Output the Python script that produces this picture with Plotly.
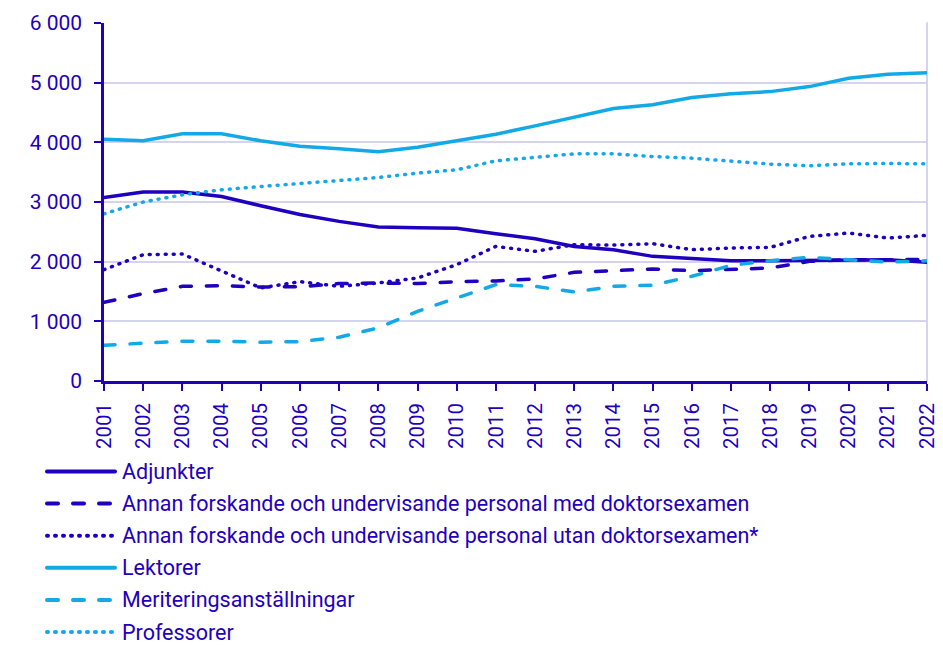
import plotly.graph_objects as go

years = list(range(2001, 2023))

adjunkter = [3077, 3166, 3166, 3093, 2937, 2790, 2675, 2580, 2569, 2558, 2469,
             2385, 2256, 2201, 2089, 2050, 2017, 2017, 2022, 2033, 2033, 1989]
annan_med = [1319, 1464, 1587, 1598, 1576, 1580, 1632, 1643, 1632, 1665, 1677,
             1710, 1821, 1849, 1877, 1849, 1866, 1894, 2005, 2033, 2033, 2040]
annan_utan = [1866, 2117, 2128, 1838, 1560, 1665, 1587, 1643, 1727, 1950, 2256,
              2173, 2285, 2279, 2301, 2201, 2229, 2240, 2424, 2480, 2396, 2441]
lektorer = [4053, 4025, 4142, 4142, 4025, 3935, 3891, 3841, 3919, 4030, 4137,
            4276, 4415, 4566, 4630, 4750, 4815, 4850, 4934, 5074, 5141, 5168]
meritering = [600, 628, 667, 667, 650, 660, 734, 890, 1168, 1392, 1615,
              1587, 1492, 1587, 1604, 1755, 1938, 2017, 2072, 2033, 1994, 2015]
professorer = [2803, 2999, 3121, 3205, 3260, 3310, 3361, 3411, 3484, 3540, 3690,
               3752, 3807, 3807, 3762, 3735, 3679, 3635, 3607, 3640, 3646, 3640]

names = ["Adjunkter",
         "Annan forskande och undervisande personal med doktorsexamen",
         "Annan forskande och undervisande personal utan doktorsexamen*",
         "Lektorer",
         "Meriteringsanställningar",
         "Professorer"]
series = [adjunkter, annan_med, annan_utan, lektorer, meritering, professorer]

y_tick_vals = [0, 1000, 2000, 3000, 4000, 5000, 6000]
y_tick_text = ["0", "1 000", "2 000", "3 000", "4 000", "5 000", "6 000"]

DARK = "#1E00BE"
LIGHT = "#12A9E6"
GRID = "#D4D4EE"
DASH = "11px,15px"
DOT = "1px,7px"
colors = [DARK, DARK, DARK, LIGHT, LIGHT, LIGHT]
dashes = ["solid", DASH, DOT, "solid", DASH, DOT]

fig = go.Figure()
for name, vals, c, d in zip(names, series, colors, dashes):
    fig.add_trace(go.Scatter(x=years, y=vals, mode="lines", name=name,
                             line=dict(color=c, width=3.5, dash=d),
                             showlegend=False))

W, H = 943, 645
L, R, T, B = 104, 927, 23, 381
PW, PH = R - L, B - T


def px_x(px):
    return (px - L) / PW


def px_y(py):
    return (B - py) / PH


shapes = [dict(type="line", xref="paper", yref="paper", x0=1, x1=1, y0=0, y1=1,
               line=dict(color=GRID, width=2), layer="below")]
annotations = []
leg_y0, leg_step = 471.5, 32.1
for i, (name, c, d) in enumerate(zip(names, colors, dashes)):
    yy = px_y(leg_y0 + i * leg_step)
    shapes.append(dict(type="line", xref="paper", yref="paper",
                       x0=px_x(47), x1=px_x(115), y0=yy, y1=yy,
                       line=dict(color=c, width=4, dash=d)))
    annotations.append(dict(xref="paper", yref="paper", x=px_x(121), y=yy,
                            xanchor="left", yanchor="middle", showarrow=False,
                            text=name, font=dict(size=21.5, color=DARK),
                            borderpad=0))

fig.update_layout(
    width=W, height=H,
    margin=dict(l=L, r=W - R, t=T, b=H - B, pad=0, autoexpand=False),
    paper_bgcolor="white", plot_bgcolor="white",
    font=dict(family="Roboto", size=21, color=DARK),
    shapes=shapes, annotations=annotations,
    xaxis=dict(range=[2001, 2022], tickmode="array", tickvals=years,
               ticktext=[str(y) for y in years], tickangle=-90,
               ticks="outside", ticklen=7, tickwidth=2, tickcolor=DARK,
               showline=True, linecolor=DARK, linewidth=2.5, showgrid=False,
               zeroline=False, tickfont=dict(size=20.5, color=DARK),
               ticklabelstandoff=4, automargin=False),
    yaxis=dict(range=[0, 6000], tickmode="array", tickvals=y_tick_vals,
               ticktext=y_tick_text, ticks="outside", ticklen=7, tickwidth=1.5,
               tickcolor=DARK, showline=True, linecolor=DARK, linewidth=2.5,
               showgrid=True, gridcolor=GRID, gridwidth=2, zeroline=False,
               tickfont=dict(size=21, color=DARK), ticklabelstandoff=8,
               automargin=False),
)

page_fix = """
document.body.style.margin = '0';
document.body.style.overflow = 'hidden';
document.documentElement.style.overflow = 'hidden';
document.querySelectorAll('.js-line, .shapelayer path').forEach(function(p){
  p.style.strokeLinecap = 'round';
});
"""

fig.write_html("out.html", post_script=page_fix,
               config={"displayModeBar": False})
